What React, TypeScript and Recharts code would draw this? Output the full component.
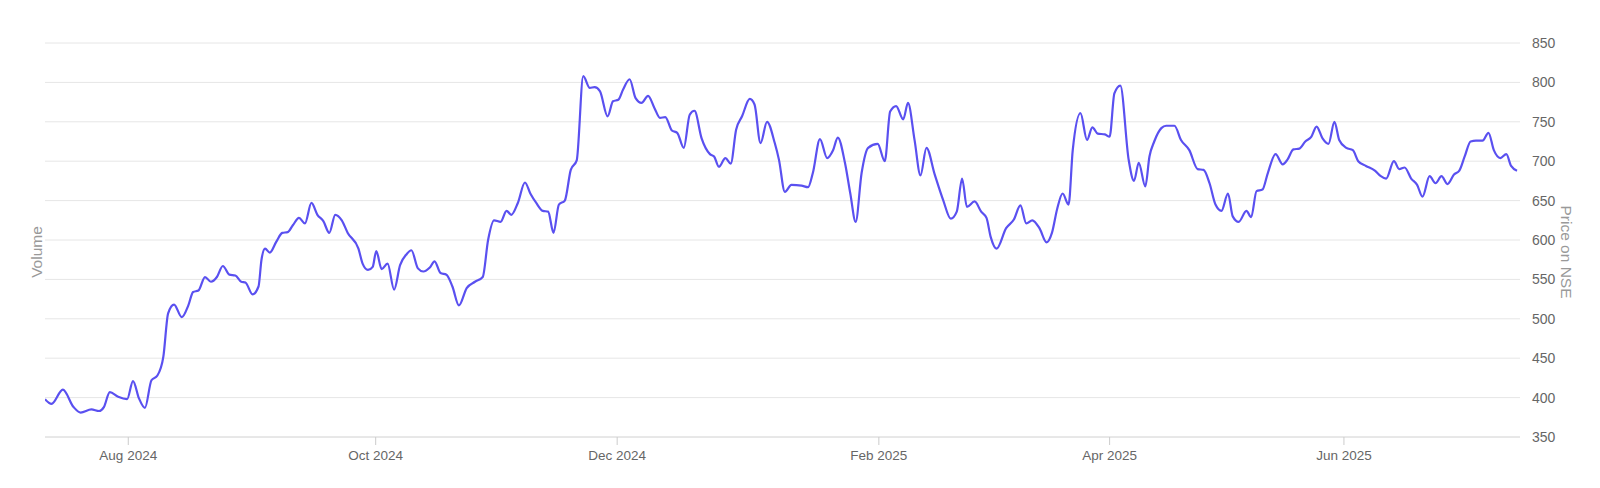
import React from 'react';
import { LineChart, Line, XAxis, YAxis, CartesianGrid } from 'recharts';

// x = trading-day index from mid July 2024, y = closing price on NSE
const days = [
  0, 1.1, 3.0, 4.8, 6.0, 7.8, 9.1, 9.9, 10.9, 12.3, 13.8, 14.8, 15.8, 16.8, 17.9, 18.9, 19.9, 20.7, 21.7, 23.0,
  24.1, 24.9, 25.8, 26.9, 27.9, 28.9, 29.9, 31.0, 32.0, 33.0, 33.7, 34.9, 35.9, 36.4, 37.0, 37.8, 38.9, 39.9, 40.8, 41.7,
  42.7, 43.7, 44.8, 45.8, 46.8, 47.8, 48.8, 49.9, 50.9, 52.7, 53.4, 54.3, 55.1, 55.7, 56.6, 57.6, 58.7, 59.7, 60.8, 61.6,
  62.7, 63.6, 64.7, 65.5, 66.5, 67.5, 68.5, 69.6, 70.9, 72.3, 73.6, 74.5, 75.5, 76.6, 77.6, 78.4, 79.5, 80.7, 81.6, 82.6,
  83.7, 84.6, 85.5, 86.4, 87.4, 88.4, 89.4, 90.5, 91.6, 92.4, 93.3, 94.6, 95.5, 96.4, 97.2, 98.3, 99.3, 100.3, 101.4, 102.5,
  103.4, 104.3, 105.4, 106.3, 107.4, 108.4, 109.2, 110.4, 111.8, 112.5, 113.3, 114.4, 115.3, 116.2, 117.2, 118.5, 119.3, 120.3, 121.4, 122.7,
  123.4, 124.4, 125.5, 127.2, 128.3, 129.1, 130.3, 131.5, 132.5, 133.3, 134.5, 135.4, 136.3, 137.3, 138.4, 140.0, 141.2, 142.1, 143.1, 144.3,
  145.1, 146.2, 147.2, 148.2, 149.6, 151.0, 152.3, 153.3, 154.2, 155.0, 156.3, 157.4, 158.3, 159.0, 160.0, 161.6, 162.9, 164.0, 165.0, 166.0,
  167.2, 168.4, 169.3, 170.2, 171.1, 172.1, 172.8, 174.1, 175.2, 176.1, 177.0, 178.2, 179.0, 179.8, 180.8, 182.2, 183.1, 183.9, 185.0, 185.7,
  186.5, 187.7, 188.5, 189.9, 191.0, 192.4, 193.8, 194.8, 195.8, 196.8, 197.8, 198.9, 199.7, 200.7, 202.0, 202.8, 203.7, 204.7, 205.6, 206.9,
  208.1, 208.9, 209.9, 210.9, 211.9, 212.9, 213.8, 214.8, 215.8, 216.8, 217.6, 218.8, 219.9, 220.8, 222.1, 223.6, 224.6, 225.5, 226.8, 227.7,
  228.6, 229.7, 230.7, 231.6, 232.8, 233.8, 234.8, 235.8, 236.9, 237.8, 238.7, 239.7, 240.6, 241.7, 242.7, 243.6, 244.7, 245.7, 246.5, 247.5,
];

const prices = [
  398, 392, 410, 388, 381, 385, 383, 388, 407, 401, 398, 421, 399, 387, 422, 428, 452, 507, 518, 502,
  517, 534, 536, 553, 547, 553, 567, 556, 555, 547, 546, 531, 541, 575, 589, 584, 598, 609, 610, 619,
  628, 621, 647, 632, 624, 609, 632, 625, 609, 589, 570, 562, 566, 586, 563, 570, 537, 568, 582, 587,
  564, 560, 565, 573, 558, 556, 541, 517, 539, 547, 553, 600, 625, 623, 637, 632, 647, 673, 659, 647,
  637, 636, 609, 645, 650, 689, 701, 808, 793, 794, 789, 757, 776, 778, 791, 804, 780, 774, 783, 767,
  755, 756, 739, 736, 717, 759, 764, 729, 709, 706, 693, 704, 697, 740, 757, 779, 772, 723, 750, 723,
  702, 661, 670, 669, 667, 685, 728, 704, 714, 730, 698, 659, 623, 685, 717, 722, 700, 763, 770, 753,
  774, 727, 682, 717, 683, 651, 627, 636, 678, 642, 649, 636, 628, 604, 589, 615, 626, 644, 621, 625,
  615, 597, 609, 640, 659, 645, 714, 761, 727, 743, 735, 734, 731, 786, 796, 702, 675, 698, 668, 706,
  725, 742, 745, 745, 727, 714, 690, 689, 672, 645, 637, 659, 630, 623, 637, 629, 662, 664, 685, 709,
  696, 702, 715, 716, 725, 731, 744, 729, 722, 750, 727, 717, 714, 700, 694, 688, 681, 678, 700, 690,
  692, 678, 670, 655, 681, 672, 681, 671, 683, 688, 706, 725, 726, 726, 736, 714, 704, 709, 694, 688,
];

const monthTicks = [14, 55.6, 96.2, 140.2, 179, 218.4];
const monthLabels = ['Aug 2024', 'Oct 2024', 'Dec 2024', 'Feb 2025', 'Apr 2025', 'Jun 2025'];
const priceTicks = [350, 400, 450, 500, 550, 600, 650, 700, 750, 800, 850];

const data = days.map((d, i) => ({ day: d, price: prices[i] }));

const font = '"Liberation Sans", Arial, sans-serif';

export default function App() {
  return (
    <div style={{ position: 'absolute', left: 0, top: 0, width: 1600, height: 488, background: '#fff', fontFamily: font }}>
      <LineChart width={1600} height={488} data={data} margin={{ top: 43, right: 0, bottom: 0, left: 0 }}>
        <CartesianGrid vertical={false} stroke="#e6e6e6" yAxisId="price" />
        <XAxis
          dataKey="day"
          type="number"
          domain={[0, 248]}
          ticks={monthTicks}
          tickFormatter={(v) => monthLabels[monthTicks.indexOf(v)] ?? ''}
          height={51}
          axisLine={{ stroke: '#dcdcdc' }}
          tickLine={{ stroke: '#cccccc' }}
          tickSize={8}
          tickMargin={5}
          tick={{ fontSize: 13.5, fill: '#666', fontFamily: font }}
          allowDataOverflow
        />
        <YAxis
          yAxisId="vol"
          orientation="left"
          width={45}
          domain={[0, 1]}
          tick={false}
          tickLine={false}
          axisLine={false}
          label={() => (
            <text x={36} y={252} transform="rotate(-90 36 252)" textAnchor="middle" dominantBaseline="central" fill="#999" fontSize={15.5} fontFamily={font}>
              Volume
            </text>
          )}
        />
        <YAxis
          yAxisId="price"
          orientation="right"
          width={80}
          domain={[350, 850]}
          ticks={priceTicks}
          tickLine={false}
          axisLine={false}
          tickSize={6}
          tickMargin={6}
          tick={{ fontSize: 14, fill: '#666', fontFamily: font }}
          label={() => (
            <text x={1566} y={252} transform="rotate(90 1566 252)" textAnchor="middle" dominantBaseline="central" fill="#999" fontSize={15.5} fontFamily={font}>
              Price on NSE
            </text>
          )}
        />
        <Line
          yAxisId="price"
          dataKey="price"
          type="monotone"
          stroke="#5a50f0"
          strokeWidth={2.2}
          dot={false}
          activeDot={false}
          isAnimationActive={false}
        />
      </LineChart>
    </div>
  );
}
